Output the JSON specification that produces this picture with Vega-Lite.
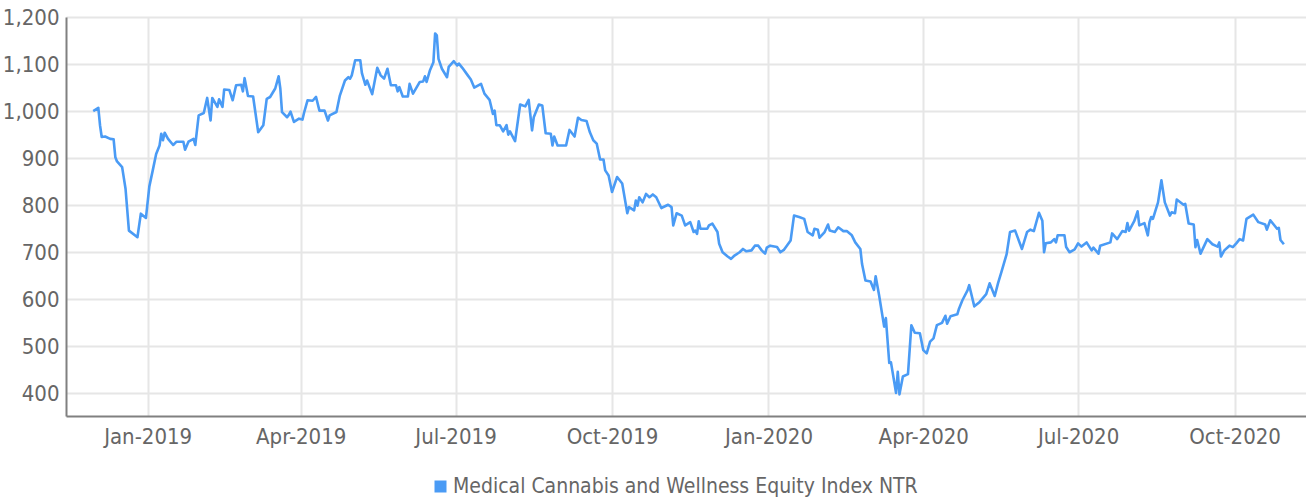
{
  "$schema": "https://vega.github.io/schema/vega-lite/v6.json",
  "width": 1240,
  "height": 399,
  "autosize": {"type": "none"},
  "padding": {"left": 66, "top": 17, "right": 0, "bottom": 84},
  "background": "white",
  "config": {
    "font": "DejaVu Sans Condensed, sans-serif",
    "view": {"stroke": null},
    "axis": {"labelColor": "#666666", "labelFontSize": 22, "gridColor": "#e6e6e6", "gridWidth": 2, "domainColor": "#808080", "domainWidth": 2, "ticks": false, "tickSize": 0, "title": null}
  },
  "data": {
    "values": [
      {"date": "2018-11-30", "value": 1000}, {"date": "2018-12-03", "value": 1007}, {"date": "2018-12-04", "value": 970}, {"date": "2018-12-05", "value": 945},
      {"date": "2018-12-07", "value": 946}, {"date": "2018-12-10", "value": 941}, {"date": "2018-12-12", "value": 940}, {"date": "2018-12-13", "value": 902},
      {"date": "2018-12-14", "value": 893}, {"date": "2018-12-17", "value": 881}, {"date": "2018-12-19", "value": 835}, {"date": "2018-12-21", "value": 746},
      {"date": "2018-12-26", "value": 732}, {"date": "2018-12-28", "value": 782}, {"date": "2018-12-31", "value": 773}, {"date": "2019-01-02", "value": 840},
      {"date": "2019-01-04", "value": 874}, {"date": "2019-01-06", "value": 909}, {"date": "2019-01-08", "value": 927}, {"date": "2019-01-09", "value": 952},
      {"date": "2019-01-10", "value": 938}, {"date": "2019-01-11", "value": 954}, {"date": "2019-01-13", "value": 941}, {"date": "2019-01-16", "value": 928},
      {"date": "2019-01-18", "value": 935}, {"date": "2019-01-22", "value": 935}, {"date": "2019-01-23", "value": 918}, {"date": "2019-01-25", "value": 935},
      {"date": "2019-01-28", "value": 941}, {"date": "2019-01-29", "value": 928}, {"date": "2019-01-31", "value": 991}, {"date": "2019-02-03", "value": 996},
      {"date": "2019-02-05", "value": 1028}, {"date": "2019-02-07", "value": 980}, {"date": "2019-02-08", "value": 1028}, {"date": "2019-02-11", "value": 1009},
      {"date": "2019-02-12", "value": 1025}, {"date": "2019-02-14", "value": 1009}, {"date": "2019-02-15", "value": 1046}, {"date": "2019-02-18", "value": 1045},
      {"date": "2019-02-20", "value": 1023}, {"date": "2019-02-22", "value": 1055}, {"date": "2019-02-25", "value": 1056}, {"date": "2019-02-26", "value": 1042},
      {"date": "2019-02-27", "value": 1070}, {"date": "2019-03-01", "value": 1032}, {"date": "2019-03-04", "value": 1031}, {"date": "2019-03-07", "value": 955},
      {"date": "2019-03-10", "value": 970}, {"date": "2019-03-12", "value": 1026}, {"date": "2019-03-14", "value": 1030}, {"date": "2019-03-17", "value": 1048},
      {"date": "2019-03-19", "value": 1074}, {"date": "2019-03-20", "value": 1048}, {"date": "2019-03-21", "value": 998}, {"date": "2019-03-24", "value": 987},
      {"date": "2019-03-25", "value": 992}, {"date": "2019-03-26", "value": 999}, {"date": "2019-03-28", "value": 977}, {"date": "2019-03-31", "value": 984},
      {"date": "2019-04-02", "value": 982}, {"date": "2019-04-03", "value": 997}, {"date": "2019-04-05", "value": 1023}, {"date": "2019-04-08", "value": 1022},
      {"date": "2019-04-10", "value": 1030}, {"date": "2019-04-12", "value": 1001}, {"date": "2019-04-15", "value": 1001}, {"date": "2019-04-17", "value": 980},
      {"date": "2019-04-18", "value": 991}, {"date": "2019-04-22", "value": 998}, {"date": "2019-04-24", "value": 1033}, {"date": "2019-04-27", "value": 1065},
      {"date": "2019-04-29", "value": 1072}, {"date": "2019-04-30", "value": 1069}, {"date": "2019-05-01", "value": 1076}, {"date": "2019-05-03", "value": 1108},
      {"date": "2019-05-06", "value": 1108}, {"date": "2019-05-07", "value": 1080}, {"date": "2019-05-09", "value": 1056}, {"date": "2019-05-10", "value": 1065},
      {"date": "2019-05-13", "value": 1036}, {"date": "2019-05-16", "value": 1092}, {"date": "2019-05-18", "value": 1076}, {"date": "2019-05-20", "value": 1069},
      {"date": "2019-05-22", "value": 1090}, {"date": "2019-05-24", "value": 1055}, {"date": "2019-05-27", "value": 1055}, {"date": "2019-05-28", "value": 1042},
      {"date": "2019-05-29", "value": 1051}, {"date": "2019-05-31", "value": 1031}, {"date": "2019-06-03", "value": 1031}, {"date": "2019-06-04", "value": 1058},
      {"date": "2019-06-06", "value": 1037}, {"date": "2019-06-10", "value": 1062}, {"date": "2019-06-12", "value": 1063}, {"date": "2019-06-13", "value": 1074},
      {"date": "2019-06-14", "value": 1062}, {"date": "2019-06-16", "value": 1087}, {"date": "2019-06-18", "value": 1104}, {"date": "2019-06-19", "value": 1165},
      {"date": "2019-06-20", "value": 1161}, {"date": "2019-06-21", "value": 1111}, {"date": "2019-06-23", "value": 1090}, {"date": "2019-06-26", "value": 1072},
      {"date": "2019-06-27", "value": 1094}, {"date": "2019-06-30", "value": 1106}, {"date": "2019-07-02", "value": 1097}, {"date": "2019-07-03", "value": 1101},
      {"date": "2019-07-05", "value": 1092}, {"date": "2019-07-08", "value": 1077}, {"date": "2019-07-10", "value": 1067}, {"date": "2019-07-12", "value": 1050},
      {"date": "2019-07-16", "value": 1058}, {"date": "2019-07-18", "value": 1037}, {"date": "2019-07-21", "value": 1024}, {"date": "2019-07-23", "value": 994},
      {"date": "2019-07-24", "value": 1001}, {"date": "2019-07-25", "value": 970}, {"date": "2019-07-27", "value": 970}, {"date": "2019-07-29", "value": 957},
      {"date": "2019-07-31", "value": 970}, {"date": "2019-08-01", "value": 950}, {"date": "2019-08-02", "value": 957}, {"date": "2019-08-05", "value": 936},
      {"date": "2019-08-08", "value": 1014}, {"date": "2019-08-11", "value": 1010}, {"date": "2019-08-13", "value": 1024}, {"date": "2019-08-15", "value": 959},
      {"date": "2019-08-16", "value": 987}, {"date": "2019-08-19", "value": 1014}, {"date": "2019-08-21", "value": 1012}, {"date": "2019-08-23", "value": 953},
      {"date": "2019-08-26", "value": 952}, {"date": "2019-08-27", "value": 927}, {"date": "2019-08-28", "value": 946}, {"date": "2019-08-30", "value": 927},
      {"date": "2019-09-04", "value": 927}, {"date": "2019-09-06", "value": 960}, {"date": "2019-09-09", "value": 946}, {"date": "2019-09-11", "value": 986},
      {"date": "2019-09-13", "value": 981}, {"date": "2019-09-16", "value": 979}, {"date": "2019-09-18", "value": 955}, {"date": "2019-09-20", "value": 938},
      {"date": "2019-09-22", "value": 931}, {"date": "2019-09-24", "value": 897}, {"date": "2019-09-26", "value": 897}, {"date": "2019-09-27", "value": 874},
      {"date": "2019-09-29", "value": 863}, {"date": "2019-10-01", "value": 828}, {"date": "2019-10-04", "value": 860}, {"date": "2019-10-07", "value": 846},
      {"date": "2019-10-10", "value": 783}, {"date": "2019-10-11", "value": 796}, {"date": "2019-10-14", "value": 789}, {"date": "2019-10-15", "value": 810},
      {"date": "2019-10-16", "value": 799}, {"date": "2019-10-17", "value": 817}, {"date": "2019-10-19", "value": 806}, {"date": "2019-10-21", "value": 824},
      {"date": "2019-10-23", "value": 817}, {"date": "2019-10-25", "value": 823}, {"date": "2019-10-27", "value": 817}, {"date": "2019-10-30", "value": 794},
      {"date": "2019-11-03", "value": 801}, {"date": "2019-11-05", "value": 796}, {"date": "2019-11-06", "value": 757}, {"date": "2019-11-08", "value": 783},
      {"date": "2019-11-11", "value": 778}, {"date": "2019-11-13", "value": 757}, {"date": "2019-11-16", "value": 764}, {"date": "2019-11-18", "value": 743},
      {"date": "2019-11-19", "value": 746}, {"date": "2019-11-20", "value": 739}, {"date": "2019-11-21", "value": 766}, {"date": "2019-11-22", "value": 750},
      {"date": "2019-11-26", "value": 750}, {"date": "2019-11-27", "value": 757}, {"date": "2019-11-29", "value": 761}, {"date": "2019-12-02", "value": 743},
      {"date": "2019-12-03", "value": 718}, {"date": "2019-12-05", "value": 700}, {"date": "2019-12-08", "value": 691}, {"date": "2019-12-10", "value": 686},
      {"date": "2019-12-12", "value": 693}, {"date": "2019-12-15", "value": 700}, {"date": "2019-12-17", "value": 707}, {"date": "2019-12-19", "value": 702},
      {"date": "2019-12-22", "value": 704}, {"date": "2019-12-24", "value": 714}, {"date": "2019-12-26", "value": 714}, {"date": "2019-12-28", "value": 704},
      {"date": "2019-12-30", "value": 697}, {"date": "2019-12-31", "value": 710}, {"date": "2020-01-02", "value": 714}, {"date": "2020-01-06", "value": 711},
      {"date": "2020-01-08", "value": 700}, {"date": "2020-01-10", "value": 705}, {"date": "2020-01-14", "value": 725}, {"date": "2020-01-16", "value": 778},
      {"date": "2020-01-19", "value": 775}, {"date": "2020-01-22", "value": 771}, {"date": "2020-01-24", "value": 743}, {"date": "2020-01-27", "value": 736},
      {"date": "2020-01-28", "value": 750}, {"date": "2020-01-30", "value": 748}, {"date": "2020-01-31", "value": 731}, {"date": "2020-02-03", "value": 743},
      {"date": "2020-02-05", "value": 759}, {"date": "2020-02-06", "value": 746}, {"date": "2020-02-09", "value": 743}, {"date": "2020-02-11", "value": 753},
      {"date": "2020-02-14", "value": 745}, {"date": "2020-02-16", "value": 745}, {"date": "2020-02-19", "value": 736}, {"date": "2020-02-21", "value": 721},
      {"date": "2020-02-24", "value": 707}, {"date": "2020-02-25", "value": 675}, {"date": "2020-02-27", "value": 640}, {"date": "2020-03-01", "value": 638},
      {"date": "2020-03-03", "value": 620}, {"date": "2020-03-04", "value": 649}, {"date": "2020-03-06", "value": 609}, {"date": "2020-03-09", "value": 542},
      {"date": "2020-03-10", "value": 560}, {"date": "2020-03-12", "value": 465}, {"date": "2020-03-13", "value": 466}, {"date": "2020-03-16", "value": 401},
      {"date": "2020-03-17", "value": 446}, {"date": "2020-03-18", "value": 398}, {"date": "2020-03-20", "value": 436}, {"date": "2020-03-23", "value": 441},
      {"date": "2020-03-25", "value": 545}, {"date": "2020-03-27", "value": 529}, {"date": "2020-03-30", "value": 528}, {"date": "2020-04-01", "value": 492},
      {"date": "2020-04-03", "value": 485}, {"date": "2020-04-05", "value": 510}, {"date": "2020-04-07", "value": 517}, {"date": "2020-04-09", "value": 545},
      {"date": "2020-04-12", "value": 550}, {"date": "2020-04-14", "value": 565}, {"date": "2020-04-15", "value": 548}, {"date": "2020-04-17", "value": 564},
      {"date": "2020-04-21", "value": 568}, {"date": "2020-04-22", "value": 580}, {"date": "2020-04-24", "value": 598}, {"date": "2020-04-27", "value": 619},
      {"date": "2020-04-28", "value": 630}, {"date": "2020-05-01", "value": 585}, {"date": "2020-05-04", "value": 594}, {"date": "2020-05-08", "value": 611},
      {"date": "2020-05-10", "value": 634}, {"date": "2020-05-13", "value": 607}, {"date": "2020-05-15", "value": 635}, {"date": "2020-05-17", "value": 659},
      {"date": "2020-05-20", "value": 696}, {"date": "2020-05-22", "value": 743}, {"date": "2020-05-25", "value": 746}, {"date": "2020-05-29", "value": 707},
      {"date": "2020-06-01", "value": 743}, {"date": "2020-06-03", "value": 748}, {"date": "2020-06-05", "value": 745}, {"date": "2020-06-08", "value": 784},
      {"date": "2020-06-10", "value": 767}, {"date": "2020-06-11", "value": 700}, {"date": "2020-06-12", "value": 719}, {"date": "2020-06-15", "value": 721},
      {"date": "2020-06-17", "value": 728}, {"date": "2020-06-18", "value": 721}, {"date": "2020-06-19", "value": 736}, {"date": "2020-06-23", "value": 736},
      {"date": "2020-06-24", "value": 711}, {"date": "2020-06-26", "value": 700}, {"date": "2020-06-28", "value": 704}, {"date": "2020-06-29", "value": 706},
      {"date": "2020-07-01", "value": 719}, {"date": "2020-07-03", "value": 712}, {"date": "2020-07-06", "value": 721}, {"date": "2020-07-09", "value": 704},
      {"date": "2020-07-10", "value": 710}, {"date": "2020-07-13", "value": 697}, {"date": "2020-07-14", "value": 714}, {"date": "2020-07-20", "value": 721},
      {"date": "2020-07-21", "value": 740}, {"date": "2020-07-24", "value": 728}, {"date": "2020-07-27", "value": 745}, {"date": "2020-07-29", "value": 743},
      {"date": "2020-07-30", "value": 762}, {"date": "2020-07-31", "value": 746}, {"date": "2020-08-03", "value": 766}, {"date": "2020-08-05", "value": 787},
      {"date": "2020-08-06", "value": 757}, {"date": "2020-08-09", "value": 762}, {"date": "2020-08-11", "value": 736}, {"date": "2020-08-12", "value": 764},
      {"date": "2020-08-13", "value": 775}, {"date": "2020-08-14", "value": 771}, {"date": "2020-08-17", "value": 806}, {"date": "2020-08-19", "value": 853},
      {"date": "2020-08-21", "value": 806}, {"date": "2020-08-24", "value": 778}, {"date": "2020-08-25", "value": 785}, {"date": "2020-08-27", "value": 783},
      {"date": "2020-08-28", "value": 812}, {"date": "2020-09-01", "value": 801}, {"date": "2020-09-02", "value": 803}, {"date": "2020-09-04", "value": 761},
      {"date": "2020-09-07", "value": 759}, {"date": "2020-09-08", "value": 711}, {"date": "2020-09-09", "value": 726}, {"date": "2020-09-11", "value": 697},
      {"date": "2020-09-15", "value": 728}, {"date": "2020-09-18", "value": 717}, {"date": "2020-09-21", "value": 712}, {"date": "2020-09-22", "value": 721},
      {"date": "2020-09-23", "value": 691}, {"date": "2020-09-25", "value": 704}, {"date": "2020-09-28", "value": 714}, {"date": "2020-09-30", "value": 711},
      {"date": "2020-10-02", "value": 719}, {"date": "2020-10-04", "value": 728}, {"date": "2020-10-06", "value": 725}, {"date": "2020-10-08", "value": 771},
      {"date": "2020-10-12", "value": 780}, {"date": "2020-10-15", "value": 764}, {"date": "2020-10-19", "value": 759}, {"date": "2020-10-20", "value": 748},
      {"date": "2020-10-22", "value": 768}, {"date": "2020-10-24", "value": 759}, {"date": "2020-10-26", "value": 750}, {"date": "2020-10-27", "value": 752},
      {"date": "2020-10-28", "value": 726}, {"date": "2020-10-30", "value": 717}
    ]
  },
  "mark": {"type": "line", "strokeWidth": 2.6, "strokeJoin": "round", "clip": true},
  "encoding": {
    "x": {
      "field": "date",
      "type": "temporal",
      "scale": {
        "type": "utc",
        "domain": [{"year": 2018, "month": 11, "date": 14, "utc": true}, {"year": 2020, "month": 11, "date": 12, "utc": true}],
        "nice": false
      },
      "axis": {
        "format": "%b-%Y",
        "labelPadding": 10,
        "labelFlush": false,
        "labelOverlap": false,
        "values": [
          {"year": 2019, "month": 1, "date": 1, "utc": true},
          {"year": 2019, "month": 4, "date": 1, "utc": true},
          {"year": 2019, "month": 7, "date": 1, "utc": true},
          {"year": 2019, "month": 10, "date": 1, "utc": true},
          {"year": 2020, "month": 1, "date": 1, "utc": true},
          {"year": 2020, "month": 4, "date": 1, "utc": true},
          {"year": 2020, "month": 7, "date": 1, "utc": true},
          {"year": 2020, "month": 10, "date": 1, "utc": true}
        ]
      }
    },
    "y": {
      "field": "value",
      "type": "quantitative",
      "scale": {"domain": [352, 1200], "nice": false, "zero": false},
      "axis": {"values": [400, 500, 600, 700, 800, 900, 1000, 1100, 1200], "format": ",d", "labelPadding": 7}
    },
    "color": {
      "datum": "Medical Cannabis and Wellness Equity Index NTR",
      "type": "nominal",
      "scale": {"range": ["#4a9bf5"]},
      "legend": {
        "title": null,
        "orient": "none",
        "legendX": 364,
        "legendY": 459,
        "symbolType": "square",
        "symbolSize": 144,
        "symbolFillColor": "#4a9bf5",
        "symbolStrokeColor": "#4a9bf5",
        "symbolStrokeWidth": 0,
        "labelFontSize": 21,
        "labelColor": "#666666",
        "labelOffset": 2,
        "labelLimit": 800,
        "padding": 0
      }
    }
  }
}
